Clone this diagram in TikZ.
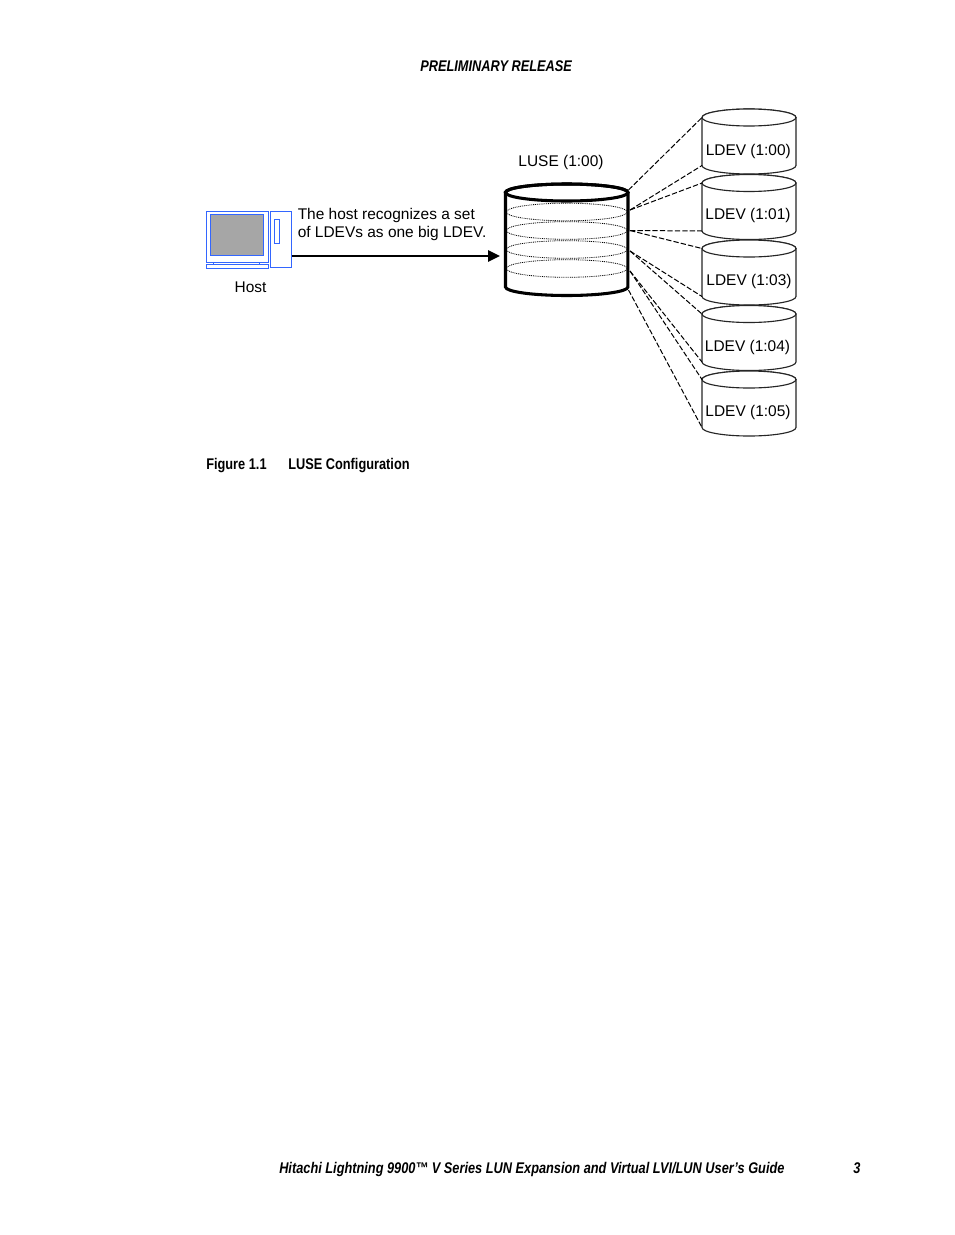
\documentclass[tikz,border=0pt]{standalone}
\usepackage{fontspec}
\usetikzlibrary{arrows.meta}
\setmainfont{Liberation Sans}
\newfontfamily\narrowfam[FakeStretch=0.826]{Liberation Sans}
\definecolor{hostblue}{HTML}{3366FF}
\definecolor{screengray}{HTML}{A6A6A6}
\tikzset{
  lbl/.style={font=\fontsize{11.6pt}{13.5pt}\selectfont, inner sep=0pt, text=black},
  hdr/.style={font=\narrowfam\bfseries\itshape\fontsize{11.6pt}{13pt}\selectfont, inner sep=0pt, anchor=base west},
  captext/.style={font=\narrowfam\bfseries\fontsize{11.6pt}{13pt}\selectfont, inner sep=0pt, anchor=base west},
  hostpart/.style={draw=hostblue, line width=0.7pt, fill=white, inner sep=0pt, outer sep=0pt, anchor=north west},
  link/.style={draw=black, line width=0.75pt, dash pattern=on 4pt off 1.6pt},
  cyl/.style={draw=black!85, line width=0.85pt, fill=white},
  band/.style={draw=black, line width=0.6pt, dash pattern=on 0.7pt off 0.7pt},
  feed/.style={draw=black, line width=1.5pt, -{Triangle[length=9pt,width=8.5pt]}}
}
% #1 name, #2 y of the top of the upper ellipse, #3 label, #4 label x, #5 label y offset
\newcommand{\ldevcyl}[5]{%
  \path[cyl] (702,#2+9) -- (702,#2+57) arc[start angle=180,end angle=0,x radius=47,y radius=8.5] -- (796,#2+9)
     arc[start angle=0,end angle=-180,x radius=47,y radius=8.5] -- cycle;
  \path[cyl] (749,#2+9) ellipse[x radius=47,y radius=8.5];
  \coordinate (#1top) at (702,#2+9);
  \coordinate (#1bot) at (702,#2+57);
  \node[lbl] (#1) at (#4,#2+#5) {#3};
}
\begin{document}
\begin{tikzpicture}[x=0.75pt,y=-0.75pt]
\useasboundingbox (0,0) rectangle (954,1235);
\node[hdr] (header) at (420,71) {PRELIMINARY RELEASE};
% host
\node[hostpart, minimum width=62*0.75pt, minimum height=51*0.75pt] (monitor) at (206,211) {};
\node[hostpart, fill=screengray, minimum width=53*0.75pt, minimum height=41*0.75pt] (screen) at (210,214) {};
\node[hostpart, minimum width=46.5*0.75pt, minimum height=3*0.75pt] (stand) at (213,262) {};
\node[hostpart, minimum width=62*0.75pt, minimum height=3.5*0.75pt] (base) at (206,264.5) {};
\node[hostpart, minimum width=21.5*0.75pt, minimum height=56.5*0.75pt] (tower) at (270,211) {};
\node[hostpart, minimum width=5.5*0.75pt, minimum height=24*0.75pt] (slot) at (274,219) {};
\node[lbl] (hostlabel) at (250.5,287) {Host};
\node[lbl, anchor=base west] (msg1) at (297.5,219) {The host recognizes a set};
\node[lbl, anchor=base west] (msg2) at (297.5,237) {of LDEVs as one big LDEV.};
% LUSE
\node[lbl] (luselabel) at (561,162.5) {LUSE (1:00)};
\coordinate (feedstart) at (tower.east |- 0,256);
\coordinate (feedend) at (500,256);
\path[feed] (feedstart) -- (feedend);
\path[draw=black, fill=white, line width=2.3pt]
  (505.5,192.5) -- (505.5,287) arc[start angle=180,end angle=0,x radius=61.2,y radius=8.5] -- (628,192.5)
  arc[start angle=0,end angle=-180,x radius=61.2,y radius=8.5] -- cycle;
\path[draw=black, line width=2.3pt] (566.7,192.5) ellipse[x radius=61.2,y radius=8.5];
\foreach \cy in {212,230.5,249.5,268.5}
  \path[band] (566.7,\cy) ellipse[x radius=60.5,y radius=8.8];
\coordinate (p1) at (628.5,190);
\coordinate (p2) at (630,210);
\coordinate (p3) at (630,230.5);
\coordinate (p4) at (630,251);
\coordinate (p5) at (630,271);
\coordinate (p6) at (628.5,290);
% LDEVs
\ldevcyl{da}{108.5}{LDEV (1:00)}{748.3}{42.5}
\ldevcyl{db}{174}{LDEV (1:01)}{748}{41.5}
\ldevcyl{dc}{239.5}{LDEV (1:03)}{749}{42}
\ldevcyl{dd}{305}{LDEV (1:04)}{747.5}{42.5}
\ldevcyl{de}{370.5}{LDEV (1:05)}{748}{42}
\path[link] (p1) -- (datop);
\path[link] (p2) -- (dabot);
\path[link] (p2) -- (dbtop);
\path[link] (p3) -- (dbbot);
\path[link] (p3) -- (dctop);
\path[link] (p4) -- (dcbot);
\path[link] (p4) -- (ddtop);
\path[link] (p5) -- (ddbot);
\path[link] (p5) -- (detop);
\path[link] (p6) -- (debot);
% caption and footer
\node[captext] (figno) at (206,469) {Figure 1.1};
\node[captext] (figtitle) at (288,469) {LUSE Configuration};
\node[hdr] (footer) at (279,1173) {Hitachi Lightning 9900™ V Series LUN Expansion and Virtual LVI/LUN User’s Guide};
\node[hdr] (pageno) at (853,1173) {3};
\end{tikzpicture}
\end{document}
